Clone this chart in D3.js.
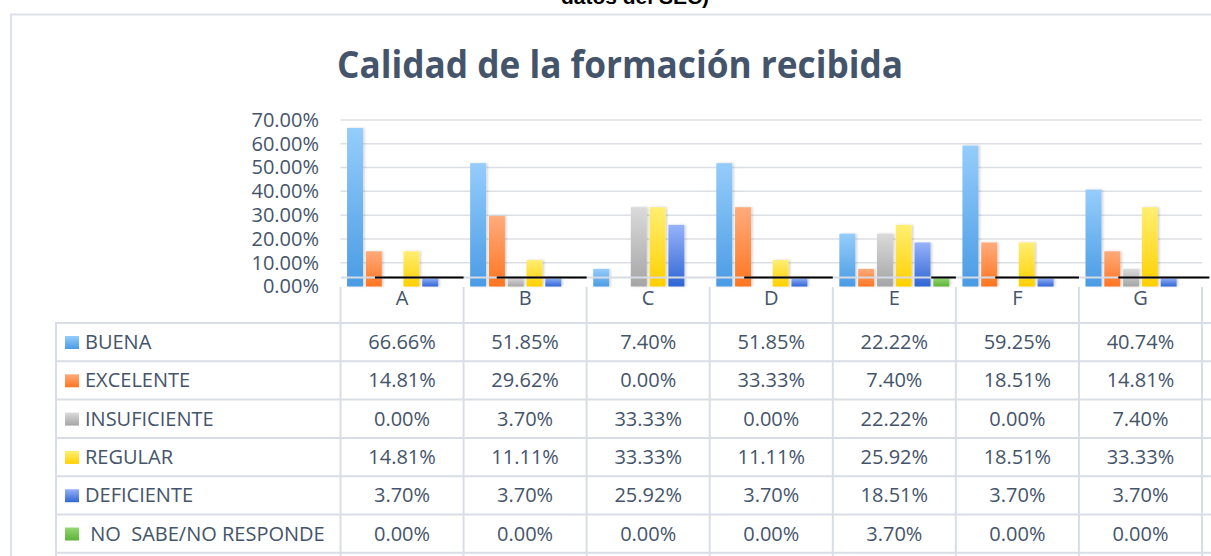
<!DOCTYPE html>
<html>
<head>
<meta charset="utf-8">
<script src="https://cdn.jsdelivr.net/npm/d3@7"></script>
<style>
  body { margin: 0; background: #fff; }
  text { font-family: "Open Sans", "Noto Sans", sans-serif; }
</style>
</head>
<body>
<div class="vis"></div>
<script>
// data
const categories = ["A", "B", "C", "D", "E", "F", "G"];
const seriesNames = ["BUENA", "EXCELENTE", "INSUFICIENTE", "REGULAR", "DEFICIENTE", " NO  SABE/NO RESPONDE"];
const buena = [66.66, 51.85, 7.40, 51.85, 22.22, 59.25, 40.74];
const excelente = [14.81, 29.62, 0.00, 33.33, 7.40, 18.51, 14.81];
const insuficiente = [0.00, 3.70, 33.33, 0.00, 22.22, 0.00, 7.40];
const regular = [14.81, 11.11, 33.33, 11.11, 25.92, 18.51, 33.33];
const deficiente = [3.70, 3.70, 25.92, 3.70, 18.51, 3.70, 3.70];
const noSabe = [0.00, 0.00, 0.00, 0.00, 3.70, 0.00, 0.00];
const yTicks = [0, 10, 20, 30, 40, 50, 60, 70];
// stray underline marks in the source image, start as fraction of the column
const underlineStart = [0.28, 0.27, null, 0.28, 0.80, 0.32, 0.32];

const allSeries = [buena, excelente, insuficiente, regular, deficiente, noSabe];
const gradTop = ["#95cdfb", "#ffab7c", "#dadada", "#ffee72", "#97b2fa", "#96d673"];
const gradBot = ["#4a9be4", "#ff7520", "#a5a5a5", "#ffd000", "#2f66d4", "#5cb438"];

const W = 1211, H = 556;
const textColor = "#44546a";
const lineColor = "#d9dee6";

var svg = d3.select(".vis")
  .append("svg")
  .attr("width", W)
  .attr("height", H);

var defs = svg.append("defs");
gradTop.forEach((c, i) => {
  let g = defs.append("linearGradient")
    .attr("id", "grad" + i)
    .attr("x1", 0).attr("y1", 0).attr("x2", 0).attr("y2", 1);
  g.append("stop").attr("offset", "0%").attr("stop-color", c);
  g.append("stop").attr("offset", "100%").attr("stop-color", gradBot[i]);
});
defs.append("filter").attr("id", "shadow")
  .attr("x", "-20%").attr("y", "-5%").attr("width", "150%").attr("height", "115%")
  .append("feDropShadow")
  .attr("dx", 1.5).attr("dy", 0).attr("stdDeviation", 1)
  .attr("flood-color", "#000").attr("flood-opacity", 0.18);

// cut-off caption above the chart
svg.append("text")
  .attr("x", 635).attr("y", 4)
  .attr("text-anchor", "middle")
  .style("font-family", "'Liberation Sans', Arial, sans-serif")
  .style("font-weight", "bold")
  .style("font-size", "21px")
  .attr("fill", "#000")
  .text("datos del SEC)");

// outer frame
svg.append("rect")
  .attr("x", 11).attr("y", 14.5)
  .attr("width", W + 20).attr("height", H + 20)
  .attr("fill", "none")
  .attr("stroke", "#dde1e8")
  .attr("stroke-width", 2);

// title
svg.append("text")
  .attr("x", 620).attr("y", 78)
  .attr("text-anchor", "middle")
  .attr("textLength", 566)
  .attr("lengthAdjust", "spacingAndGlyphs")
  .style("font-weight", "bold")
  .style("font-size", "37px")
  .attr("fill", textColor)
  .text("Calidad de la formación recibida");

// scales
var x = d3.scaleBand()
  .domain(categories)
  .range([340.5, 1202]);

var xSub = d3.scaleBand()
  .domain(d3.range(seriesNames.length))
  .range([0, x.bandwidth()])
  .paddingInner(0.15)
  .paddingOuter(0.35);

var y = d3.scaleLinear()
  .domain([0, 70])
  .range([286.5, 120]);

// gridlines
svg.append("g")
  .selectAll("line")
  .data(yTicks.filter(t => t > 0))
  .enter()
  .append("line")
  .attr("x1", 340.5).attr("x2", 1202)
  .attr("y1", d => y(d)).attr("y2", d => y(d))
  .attr("stroke", "#dcdfe5")
  .attr("stroke-width", 1.5);

// y axis labels
var yAxis = svg.append("g")
  .attr("transform", "translate(319,0)")
  .call(d3.axisLeft(y).tickValues(yTicks).tickSize(0).tickPadding(0)
    .tickFormat(d => d.toFixed(2) + "%"));
yAxis.select(".domain").remove();
yAxis.selectAll("text")
  .style("font-family", "'Open Sans', sans-serif")
  .style("font-size", "20px")
  .attr("fill", textColor);

// bars
var groups = svg.append("g")
  .selectAll("g")
  .data(categories)
  .enter()
  .append("g")
  .attr("transform", d => "translate(" + x(d) + ",0)");

groups.selectAll("rect")
  .data((c, ci) => allSeries.map((s, si) => ({ si: si, v: s[ci] })))
  .enter()
  .filter(d => d.v > 0)
  .append("rect")
  .attr("x", d => xSub(d.si))
  .attr("y", d => y(d.v))
  .attr("width", xSub.bandwidth())
  .attr("height", d => y(0) - y(d.v))
  .attr("fill", d => "url(#grad" + d.si + ")")
  .attr("filter", "url(#shadow)");

// light line crossing the bars near the base
svg.append("line")
  .attr("x1", 341).attr("x2", 1202)
  .attr("y1", 277.5).attr("y2", 277.5)
  .attr("stroke", "#d6dbe3")
  .attr("stroke-width", 2);

// black underline segments
svg.append("g")
  .selectAll("line")
  .data(categories.map((c, i) => ({ c: c, f: underlineStart[i] })).filter(d => d.f !== null))
  .enter()
  .append("line")
  .attr("x1", d => x(d.c) + d.f * x.bandwidth())
  .attr("x2", d => x(d.c) + (d.c === "G" ? 1.06 : 1) * x.bandwidth())
  .attr("y1", 277.5).attr("y2", 277.5)
  .attr("stroke", "#000")
  .attr("stroke-width", 2);

// data table
const rowTop = 323, rowH = 38.3;
var table = svg.append("g");

// horizontal borders
table.selectAll("line.h")
  .data(d3.range(seriesNames.length + 1))
  .enter()
  .append("line")
  .attr("class", "h")
  .attr("x1", 55).attr("x2", 1211)
  .attr("y1", d => rowTop + d * rowH).attr("y2", d => rowTop + d * rowH)
  .attr("stroke", lineColor)
  .attr("stroke-width", 2);

// vertical borders
table.selectAll("line.v")
  .data(categories.map(c => x(c)).concat([x.range()[1]]))
  .enter()
  .append("line")
  .attr("class", "v")
  .attr("x1", d => d).attr("x2", d => d)
  .attr("y1", 287).attr("y2", H)
  .attr("stroke", lineColor)
  .attr("stroke-width", 2);

table.append("line")
  .attr("x1", 56).attr("x2", 56)
  .attr("y1", rowTop).attr("y2", H)
  .attr("stroke", lineColor)
  .attr("stroke-width", 2);

// column headers
table.selectAll("text.head")
  .data(categories)
  .enter()
  .append("text")
  .attr("class", "head")
  .attr("x", d => x(d) + x.bandwidth() / 2)
  .attr("y", 305)
  .attr("text-anchor", "middle")
  .style("font-size", "20px")
  .attr("fill", textColor)
  .text(d => d);

// row labels with swatches
var rows = table.selectAll("g.row")
  .data(seriesNames)
  .enter()
  .append("g")
  .attr("class", "row")
  .attr("transform", (d, i) => "translate(0," + (rowTop + i * rowH) + ")");

rows.append("rect")
  .attr("x", 65).attr("y", 13)
  .attr("width", 14).attr("height", 13)
  .attr("fill", (d, i) => "url(#grad" + i + ")");

rows.append("text")
  .attr("x", 85).attr("y", 26)
  .style("font-size", "20px")
  .style("white-space", "pre")
  .attr("fill", textColor)
  .text(d => d);

rows.selectAll("text.val")
  .data((d, i) => allSeries[i].map((v, ci) => ({ c: categories[ci], v: v })))
  .enter()
  .append("text")
  .attr("class", "val")
  .attr("x", d => x(d.c) + x.bandwidth() / 2)
  .attr("y", 26)
  .attr("text-anchor", "middle")
  .style("font-size", "20px")
  .attr("fill", textColor)
  .text(d => d.v.toFixed(2) + "%");
</script>
</body>
</html>
